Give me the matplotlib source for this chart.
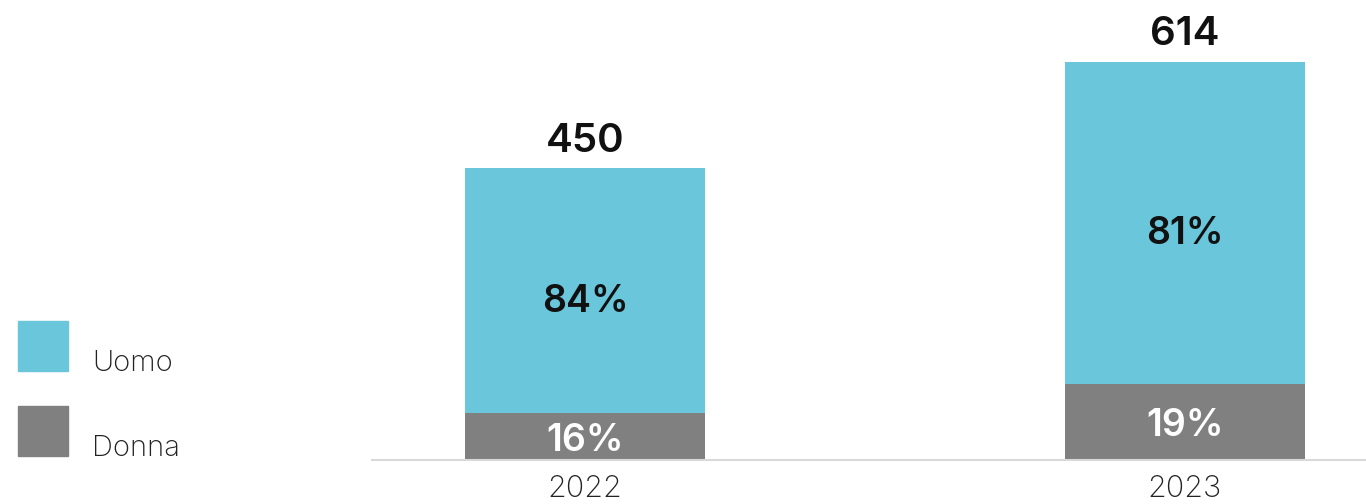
import matplotlib.pyplot as plt
from matplotlib.patches import Rectangle

years = ["2022", "2023"]
totals = [450, 614]
pct_uomo = [84, 81]
pct_donna = [16, 19]

c_uomo = "#6AC6DB"
c_donna = "#808080"

plt.rcParams['font.family'] = ['Inter', 'DejaVu Sans']

W, H = 1366, 504
fig = plt.figure(figsize=(W / 100, H / 100), dpi=100)
ax = fig.add_axes([372 / W, 44 / H, (W - 372) / W, 460 / H])

x = list(range(len(years)))
donna = [t * p / 100 for t, p in zip(totals, pct_donna)]
uomo = [t - d for t, d in zip(totals, donna)]

ax.bar(x, donna, width=0.4, color=c_donna)
ax.bar(x, uomo, width=0.4, bottom=donna, color=c_uomo)

for i in x:
    ax.text(i, totals[i] + 13, str(totals[i]), ha='center', va='bottom',
            fontsize=29, fontweight='semibold', color='#111111')
    ax.text(i, donna[i] + uomo[i] / 2 - 17, f"{pct_uomo[i]}%", ha='center', va='center',
            fontsize=27, fontweight='semibold', color='#111111')
    ax.text(i, donna[i] / 2 - 6, f"{pct_donna[i]}%", ha='center', va='center',
            fontsize=27, fontweight='semibold', color='white')

ax.set_xlim(-0.355, 1.302)
ax.set_ylim(0, 709)
ax.set_xticks(x)
ax.set_xticklabels(years, fontsize=22, fontweight='light', color='#222222')
ax.tick_params(axis='x', length=0, pad=10.5)
ax.set_yticks([])
for s in ['top', 'right', 'left']:
    ax.spines[s].set_visible(False)
ax.spines['bottom'].set_color('#D9D9D9')
ax.spines['bottom'].set_linewidth(1.5)

# legend
for label, col, top in [("Uomo", c_uomo, 321), ("Donna", c_donna, 406)]:
    fig.add_artist(Rectangle((18 / W, 1 - (top + 50) / H), 50 / W, 50 / H,
                             transform=fig.transFigure, color=col))
    fig.text(92 / W, 1 - (top + 56) / H, label, fontsize=21, fontweight='light',
             color='#222222', ha='left', va='bottom')

fig.savefig("out.png", dpi=100)
